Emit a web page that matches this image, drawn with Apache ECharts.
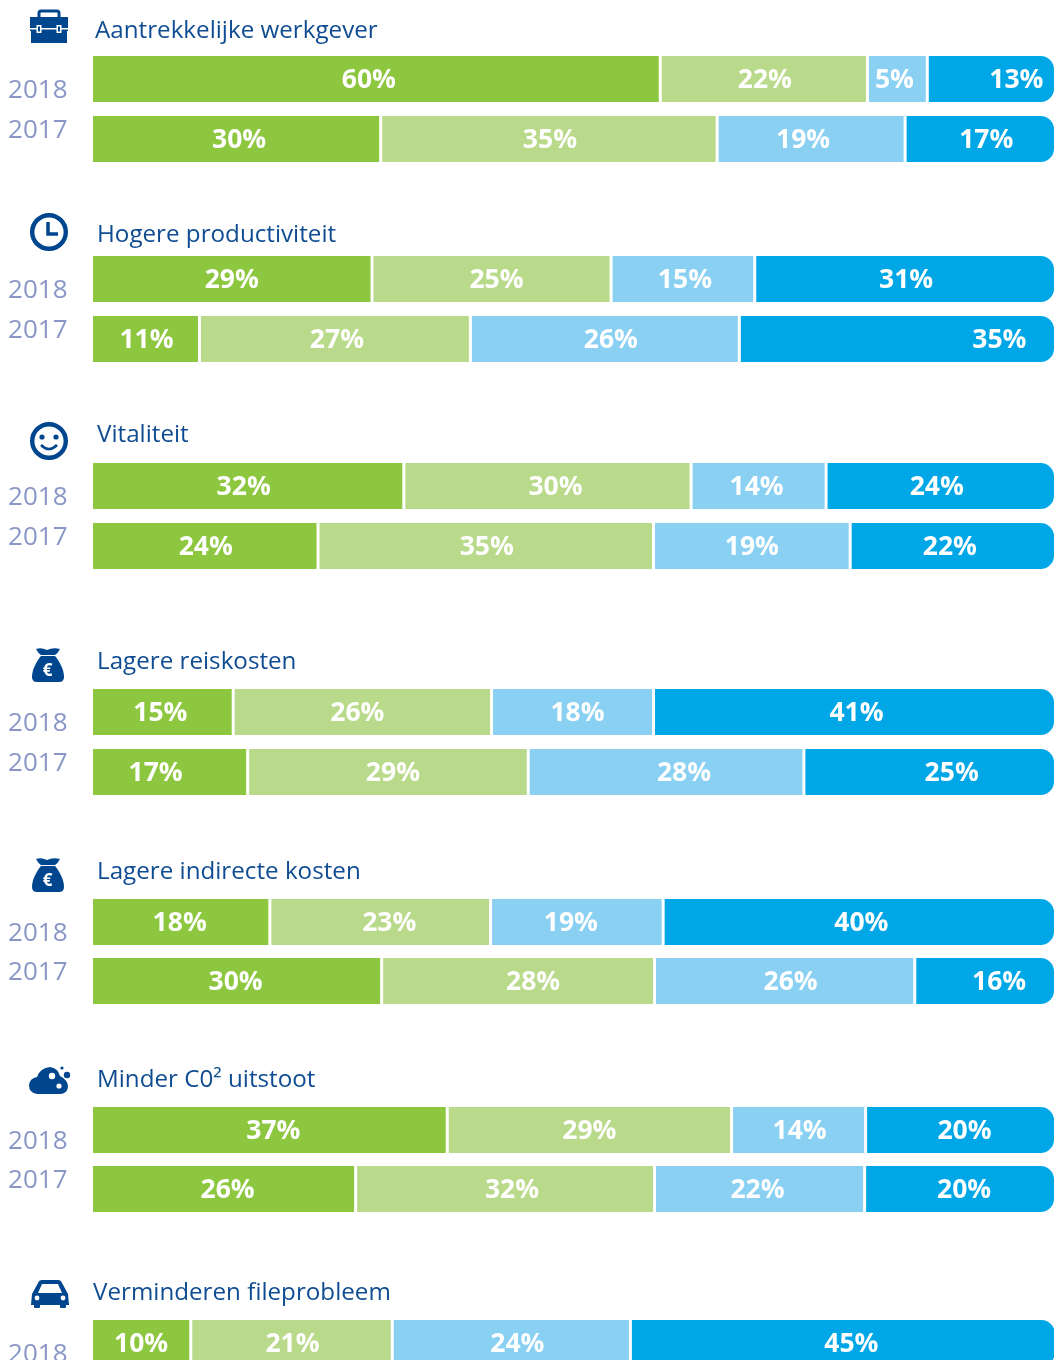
<!DOCTYPE html>
<html>
<head>
<meta charset="utf-8">
<script src="https://cdn.jsdelivr.net/npm/echarts@6/dist/echarts.min.js"></script>
<style>
    html, body { margin: 0; padding: 0; background: #fff; overflow: hidden; }
    /* the bars touch the right edge and the last block runs off the bottom, so the canvas is bigger than the window */
    #chart { width: 1100px; height: 1500px; }
</style>
</head>
<body>
<div id="chart"></div>
<script>
const themes = ['Aantrekkelijke werkgever', 'Hogere productiviteit', 'Vitaliteit', 'Lagere reiskosten',
    'Lagere indirecte kosten', 'Minder C0² uitstoot', 'Verminderen fileprobleem'];
const years = ['2018', '2017'];

// segment lengths as drawn in the picture (they differ a little from the printed percentages)
const shares2018 = [
    [59.0, 21.5, 6.2, 13.3],
    [29.1, 24.8, 14.9, 31.2],
    [32.4, 29.8, 14.0, 23.8],
    [14.7, 26.8, 16.8, 41.7],
    [18.5, 22.9, 17.9, 40.7],
    [36.9, 29.5, 13.9, 19.7],
    [10.3, 20.9, 24.7, 44.2]
];
const shares2017 = [
    [30.0, 34.9, 19.5, 15.6],
    [11.2, 28.1, 27.9, 32.8],
    [23.5, 34.8, 20.4, 21.3],
    [16.2, 29.1, 28.6, 26.1],
    [30.1, 28.3, 27.0, 14.6],
    [27.4, 31.0, 21.8, 19.8],
    []
];
// printed percentages
const printed2018 = [
    [60, 22, 5, 13],
    [29, 25, 15, 31],
    [32, 30, 14, 24],
    [15, 26, 18, 41],
    [18, 23, 19, 40],
    [37, 29, 14, 20],
    [10, 21, 24, 45]
];
const printed2017 = [
    [30, 35, 19, 17],
    [11, 27, 26, 35],
    [24, 35, 19, 22],
    [17, 29, 28, 25],
    [30, 28, 26, 16],
    [26, 32, 22, 20],
    []
];

const segmentColors = ['#8dc63f', '#b9da8a', '#89d0f3', '#00a7e7'];
const navy = '#00468e';

// layout per block: centre of the 2018 bar, distance between the bars, title centre and left
const barCentre = [79, 279, 486, 712, 922, 1130, 1343];
const barStep = [60, 60, 60, 60, 59, 59, 60];
const titleY = [29, 233, 433, 660, 870, 1078, 1291];
const titleX = [95, 97, 97, 97, 97, 97, 93];

// the printed labels are not centred in their segments, px to the right of the centre
const labelShift2018 = [
    [-7, 1, -3, 25],
    [0, 5, 2, 1],
    [-4, 8, -2, -4],
    [-2, -5, 5, 2],
    [-1, 9, -6, 2],
    [4, 0, 1, 4],
    [0, 1, 6, 8]
];
const labelShift2017 = [
    [3, 1, -8, 6],
    [1, 2, 6, 102],
    [1, 1, 0, -3],
    [-14, 5, 18, 22],
    [-1, 15, 6, 14],
    [4, 7, -2, 4],
    []
];

const grid = [], xAxis = [], yAxis = [], series = [], title = [];

themes.forEach((name, g) => {
    grid.push({
        left: 91.5,
        width: 964,
        top: barCentre[g] - barStep[g] / 2,
        height: barStep[g] * 2
    });
    xAxis.push({ gridIndex: g, type: 'value', min: 0, max: 100, show: false });
    yAxis.push({
        gridIndex: g,
        type: 'category',
        inverse: true,
        data: years,
        axisLine: { show: false },
        axisTick: { show: false },
        axisLabel: {
            margin: 24,
            // the year labels sit closer together than the bars
            formatter: v => v === '2018' ? '{down|' + v + '}' : '{up|' + v + '}',
            rich: {
                down: { fontFamily: 'Open Sans', fontSize: 26, color: '#8a96c6', padding: [24, 0, 0, 0] },
                up: { fontFamily: 'Open Sans', fontSize: 26, color: '#8a96c6', padding: [0, 0, 16, 0] }
            }
        }
    });
    title.push({
        text: name,
        left: titleX[g],
        top: titleY[g] - 16,
        padding: 0,
        textStyle: { fontFamily: 'Open Sans', fontSize: 24.2, fontWeight: 'normal', color: '#0f4c92', lineHeight: 36 }
    });
    segmentColors.forEach((color, s) => {
        const rows = [shares2018[g][s], shares2017[g][s]];
        series.push({
            type: 'bar',
            xAxisIndex: g,
            yAxisIndex: g,
            stack: 'block' + g,
            barWidth: 49,
            silent: true,
            itemStyle: {
                color: color,
                borderColor: '#fff',
                // the bar is inset by half the border on top of the stroke itself, so 1.5 gives a 3px gap
                borderWidth: 1.5,
                borderRadius: s === 3 ? [0, 14, 14, 0] : 0
            },
            label: {
                show: true,
                position: 'inside',
                fontFamily: 'Open Sans',
                fontSize: 26.5,
                fontWeight: 'bold',
                color: '#fff'
            },
            data: rows.map((v, y) => v === undefined ? null : {
                value: v,
                label: {
                    offset: [(y === 0 ? labelShift2018 : labelShift2017)[g][s], 1],
                    formatter: (y === 0 ? printed2018 : printed2017)[g][s] + '%'
                }
            })
        });
    });
});

// icons, only decoration. the graphic component has no plain path type, so register each outline
let shapeCount = 0;
const outline = (d, style) => {
    const shapeName = 'icon' + shapeCount++;
    echarts.graphic.registerShape(shapeName, echarts.graphic.extendPath(d, {}));
    return { type: shapeName, style };
};
const white = { fill: '#fff' };
const ico = { fill: navy };
const ring = (cx, cy, r) => ({ type: 'circle', shape: { cx, cy, r }, style: { fill: 'none', stroke: navy, lineWidth: 4.4 } });
const bag = dy => [
    outline(`M36 ${649 + dy} Q41 ${647 + dy} 47 ${650 + dy} Q53 ${647 + dy} 60 ${649 + dy} Q58 ${653 + dy} 55 ${655 + dy} L41 ${655 + dy} Q38 ${653 + dy} 36 ${649 + dy} Z`, ico),
    outline(`M41 ${656 + dy} L55 ${656 + dy} C60 ${662 + dy} 64 ${670 + dy} 64 ${677 + dy} Q64 ${682 + dy} 59 ${682 + dy} L37 ${682 + dy} Q32 ${682 + dy} 32 ${677 + dy} C32 ${670 + dy} 36 ${662 + dy} 41 ${656 + dy} Z`, ico),
    { type: 'text', x: 47.5, y: 671 + dy, style: { text: '€', fill: '#fff', font: 'bold 17px "Open Sans"', align: 'center', verticalAlign: 'middle' } }
];
const icons = [
    // briefcase
    outline('M39 17 L39 13 Q39 11 41 11 L57 11 Q59 11 59 13 L59 17', { fill: 'none', stroke: navy, lineWidth: 3 }),
    { type: 'rect', shape: { x: 30, y: 17, width: 38, height: 14 }, style: ico },
    { type: 'rect', shape: { x: 31, y: 31, width: 36, height: 12 }, style: ico },
    { type: 'rect', shape: { x: 30, y: 28, width: 38, height: 1.5 }, style: white },
    { type: 'rect', shape: { x: 36.5, y: 25, width: 5, height: 8 }, style: white },
    { type: 'rect', shape: { x: 56.5, y: 25, width: 5, height: 8 }, style: white },
    { type: 'rect', shape: { x: 38, y: 26.5, width: 2, height: 5 }, style: ico },
    { type: 'rect', shape: { x: 58, y: 26.5, width: 2, height: 5 }, style: ico },
    // clock
    ring(49, 232, 16.8),
    outline('M48 222 L48 234 L58 234', { fill: 'none', stroke: navy, lineWidth: 3.5 }),
    // smiley
    ring(49, 441, 16.8),
    { type: 'circle', shape: { cx: 42, cy: 437, r: 2.6 }, style: ico },
    { type: 'circle', shape: { cx: 56, cy: 437, r: 2.6 }, style: ico },
    outline('M41 445 Q49 453 57 445', { fill: 'none', stroke: navy, lineWidth: 2.5 }),
    // money bags
    ...bag(0),
    ...bag(210),
    // cloud
    outline('M37 1094 Q29 1093 29 1085 Q30 1078 37 1077 Q40 1068 50 1067 Q58 1068 60 1076 Q68 1080 68 1087 Q67 1094 60 1094 Z', ico),
    { type: 'circle', shape: { cx: 52, cy: 1076, r: 3.2 }, style: white },
    { type: 'circle', shape: { cx: 59, cy: 1086, r: 2.6 }, style: white },
    { type: 'circle', shape: { cx: 67, cy: 1075, r: 3.2 }, style: ico },
    { type: 'circle', shape: { cx: 62, cy: 1068, r: 1.6 }, style: ico },
    // car
    outline('M32 1294 L38 1283 Q39 1280 42 1280 L58 1280 Q61 1280 62 1283 L68 1294 L69 1305 L31 1305 Z', ico),
    outline('M38 1293 L42 1284 L58 1284 L62 1293 Z', white),
    { type: 'rect', shape: { x: 34, y: 1304, width: 6, height: 4, r: 1 }, style: ico },
    { type: 'rect', shape: { x: 60, y: 1304, width: 6, height: 4, r: 1 }, style: ico },
    { type: 'circle', shape: { cx: 37, cy: 1298, r: 2.4 }, style: white },
    { type: 'circle', shape: { cx: 63, cy: 1298, r: 2.4 }, style: white }
];

const myChart = echarts.init(document.getElementById('chart'), null, { renderer: 'canvas' });
myChart.setOption({
    animation: false,
    backgroundColor: '#fff',
    title,
    grid,
    xAxis,
    yAxis,
    series,
    graphic: { elements: icons }
});
</script>
</body>
</html>
